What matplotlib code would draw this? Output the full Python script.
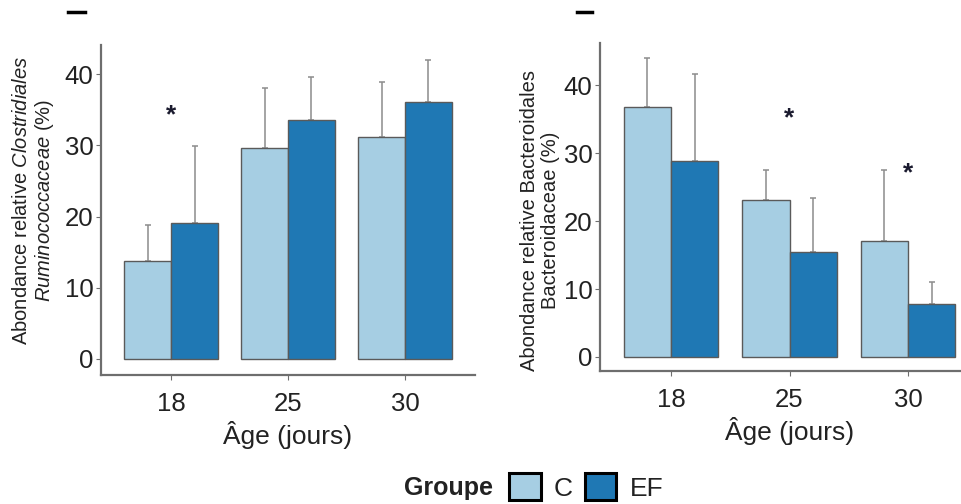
import matplotlib
matplotlib.use("Agg")
import matplotlib.pyplot as plt
import numpy as np
from matplotlib.patches import Patch
from matplotlib.lines import Line2D

plt.rcParams["font.family"] = ["Liberation Sans", "DejaVu Sans"]
plt.rcParams["mathtext.fontset"] = "custom"
plt.rcParams["mathtext.rm"] = "Liberation Sans"
plt.rcParams["mathtext.it"] = "Liberation Sans:italic"

ages = ["18", "25", "30"]
groups = ["C", "EF"]
colors = {"C": "#a6cee3", "EF": "#1f78b4"}

# Clostridiales / Ruminococcaceae (%)
clos_mean_c = [13.8, 29.6, 31.2]
clos_sd_c = [5.0, 8.5, 7.7]
clos_mean_ef = [19.1, 33.6, 36.1]
clos_sd_ef = [10.8, 6.0, 5.9]
clos_stars = [(0, 35.0)]

# Bacteroidales / Bacteroidaceae (%)
bact_mean_c = [36.8, 23.1, 17.1]
bact_sd_c = [7.2, 4.4, 10.4]
bact_mean_ef = [28.8, 15.4, 7.8]
bact_sd_ef = [12.8, 8.0, 3.2]
bact_stars = [(1, 35.9), (2, 27.8)]

W, H = 962, 504
fig = plt.figure(figsize=(W / 100, H / 100), dpi=100)


def px_axes(x0, y0, x1, y1):
    return fig.add_axes([x0 / W, 1 - y1 / H, (x1 - x0) / W, (y1 - y0) / H])


def panel(ax, mc, sc, me, se, stars, ylim, ylabel, lab_xy):
    x = np.arange(len(ages))
    bw = 0.4
    for off, m, s, g in ((-bw / 2, mc, sc, "C"), (bw / 2, me, se, "EF")):
        ax.bar(x + off, m, width=bw, color=colors[g], edgecolor="#5a5a5a",
               linewidth=1.0, zorder=2)
        ax.errorbar(x + off, m, yerr=[np.zeros(len(s)), s], fmt="none",
                    ecolor="#8c8c8c", elinewidth=1.1, capsize=2.5,
                    capthick=1.1, zorder=1)
    # significance marks, the asterisk glyph sits high in its box
    for gi, yv in stars:
        ax.annotate("*", (gi, yv), xytext=(0, -4), textcoords="offset points",
                    ha="center", va="center", fontsize=19, fontweight="bold",
                    color="#1a1a2e")
    ax.set_xlim(-0.6, 2.6)
    ax.set_ylim(*ylim)
    ax.set_xticks(x)
    ax.set_xticklabels(ages)
    ax.set_yticks([0, 10, 20, 30, 40])
    for side in ("top", "right"):
        ax.spines[side].set_visible(False)
    for side in ("left", "bottom"):
        ax.spines[side].set_color("#6e6e6e")
        ax.spines[side].set_linewidth(1.6)
    ax.tick_params(axis="both", colors="#6e6e6e", length=3.5, width=0.8,
                   labelsize=18.5, labelcolor="#222222")
    ax.tick_params(axis="y", pad=2)
    ax.tick_params(axis="x", pad=9)
    ax.set_xlabel("Âge (jours)", fontsize=19, color="#222222", labelpad=3)
    ax.set_ylabel(ylabel, fontsize=14.5, color="#222222", linespacing=1.15)
    ax.yaxis.set_label_coords(*lab_xy)


ax1 = px_axes(101, 45, 475, 375)
panel(ax1, clos_mean_c, clos_sd_c, clos_mean_ef, clos_sd_ef, clos_stars,
      (-2.25, 44.1),
      "Abondance relative $\\mathit{Clostridiales}$\n$\\mathit{Ruminococcaceae}$ (%)",
      (-0.12, 0.53))

ax2 = px_axes(600, 43, 979, 371)
panel(ax2, bact_mean_c, bact_sd_c, bact_mean_ef, bact_sd_ef, bact_stars,
      (-2.06, 46.2),
      "Abondance relative Bacteroidales\nBacteroidaceae (%)",
      (-0.105, 0.46))

# short marks above each panel
for xa, xb in ((68, 85), (577, 592)):
    fig.add_artist(Line2D([xa / W, xb / W], [1 - 12 / H, 1 - 12 / H],
                          color="black", linewidth=2.5))

# legend
fig.text(449 / W, 1 - 488 / H, "Groupe", fontsize=18, fontweight="bold",
         ha="center", va="center", color="#222222")
handles = [Patch(facecolor=colors[g], edgecolor="black", linewidth=2.2,
                 label=g) for g in groups]
fig.legend(handles=handles, loc="center left",
           bbox_to_anchor=(509 / W, 1 - 487 / H), ncol=2, frameon=False,
           fontsize=19, handlelength=1.2, handleheight=1.15,
           handletextpad=0.5, columnspacing=0.45, borderpad=0,
           borderaxespad=0, labelcolor="#222222")

fig.savefig("out.png", dpi=100)
